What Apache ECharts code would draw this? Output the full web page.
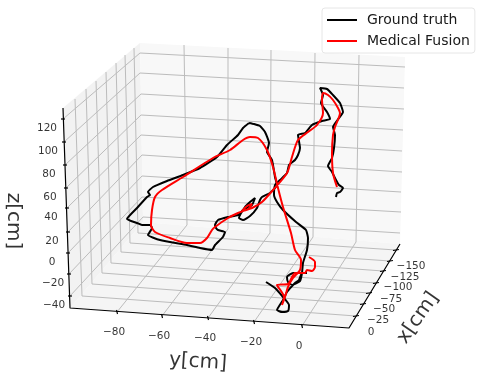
<!DOCTYPE html>
<html>
<head>
<meta charset="utf-8">
<style>html,body{margin:0;padding:0;background:#fff}#main{width:483px;height:380px}</style>
<script src="https://cdn.jsdelivr.net/npm/echarts@6/dist/echarts.min.js"></script>
</head>
<body>
<div id="main"></div>
<script>
// trajectories (projected, picture-plane units)
const groundTruth = [
  [266,282],[275,288],[283,297],[289,305],[288,311],[282,312],[277,310],[283,300],[287,292],[295,283],[299,280],[302,273],[307,273],[300,273],[293,273],[287,277],[288,282],[292,285],[300,281],[302,273],[303,263],[307,250],[308,238],[306,230],[296,222],[283,210],[277,202],[274,195],[275,185],[280,180],[287,173],[289,165],[295,160],[298,155],[300,148],[298,135],[305,133],[312,125],[322,121],[330,119],[327,112],[321,103],[323,95],[320,88],[327,89],[333,95],[340,103],[343,112],[339,118],[333,127],[335,135],[334,148],[332,158],[328,166],[332,172],[336,180],[339,185],[343,188],[340,192],[337,193],[336,197]
];
const groundTruth2 = [
  [249,123],[254,124],[260,126],[265,132],[269,143],[267,152],[272,160],[275,177],[277,185],[270,193],[262,197],[260,200],[257,208],[250,216],[243,220],[239,218],[245,207],[250,202],[255,198],[252,205],[243,210],[238,215],[228,217],[218,220],[215,225],[216,228],[218,230],[225,232],[223,237],[215,245],[212,250],[200,248],[187,245],[160,240],[148,235],[152,228],[150,225],[142,225],[137,223],[127,219],[137,208],[147,197],[150,195],[148,192],[153,187],[167,181],[183,175],[200,168],[217,157],[227,145],[238,135],[243,128],[249,123]
];
const medicalFusion = [
  [309,257],[315,262],[315,267],[312,271],[307,270],[305,273],[295,273],[292,277],[288,284],[277,285],[284,297],[282,305],[285,297],[288,287],[293,278],[300,270],[301,260],[295,250],[291,233],[283,207],[278,188],[273,167],[267,150],[258,138],[250,137],[243,140],[230,150],[213,158],[183,177],[162,190],[155,197],[152,210],[151,225],[155,232],[170,238],[187,243],[200,243],[207,238],[212,230],[215,227],[228,218],[238,213],[248,209],[252,204],[247,206],[242,211],[252,208],[262,202],[273,190],[287,173],[292,157],[298,140],[308,132],[317,125],[323,113],[322,100],[323,93],[328,95],[333,100],[338,108],[340,113],[335,127],[333,135],[332,153],[333,173],[337,187]
];

const xTicks = [0, -25, -50, -75, -100, -125, -150];
const yTicks = [-80, -60, -40, -20, 0];
const zTicks = [120, 100, 80, 60, 40, 20, 0, -20, -40];

// box corners and where gridlines meet the edges
const xTickFloor = [[356,316],[363,304],[369,293],[376,283],[383,271],[390,261],[396,250]];
const xTickBack = [[82,296],[92,284],[102,273],[111,263],[121,252],[130,243],[138,233]];
const xTickTop = [[75,99],[86,89],[96,81],[106,72],[116,63],[125,55],[134,48]];
const yTickFront = [[117,312],[162,316],[208,318],[254,322],[302,326]];
const yTickBack = [[187,225],[228,229],[270,233],[313,237],[356,242]];
const yTickTop = [[184,45],[228,48],[271,50],[315,53],[359,55]];
const zTickLeft = [[63,119],[64,142],[65,165],[66,188],[67,208],[68,232],[68,253],[69,274],[70,296]];
const zTickBack = [[140,53],[140,73],[141,94],[141,115],[141,135],[142,155],[142,176],[142,197],[143,217]];
const zTickRight = [[405,67],[404,88],[404,109],[403,130],[402,151],[402,172],[401,192],[401,212],[400,233]];
const leftPane = [[63,108],[140,43],[143,222],[70,308]];
const backPane = [[140,43],[405,57],[400,244],[143,222]];
const floorPane = [[70,308],[349,328],[400,244],[143,222]];

function seg(a, b) {
  return { type: 'line', data: [a, b], silent: true, symbol: 'none', z: 2,
    lineStyle: { color: '#bcbcbc', width: 1 } };
}
function axisLine(pts) {
  return { type: 'line', data: pts, silent: true, symbol: 'none', z: 3,
    lineStyle: { color: '#000', width: 1.2 } };
}
function pane(pts, color) {
  return { type: 'custom', silent: true, z: 1, coordinateSystem: 'cartesian2d', data: [0],
    renderItem: function (p, api) {
      return { type: 'polygon', shape: { points: pts.map(function (d) { return api.coord(d); }) },
        style: { fill: color } };
    } };
}
function labels(pts, texts, dx, dy, size, rotate) {
  return { type: 'scatter', silent: true, symbolSize: 0, z: 6,
    data: pts.map(function (d, i) { return { value: [d[0] + dx, d[1] + dy], name: String(texts[i]) }; }),
    label: { show: true, position: 'inside', formatter: function (p) { return p.name.replace('-', '\u2212'); },
      fontFamily: 'DejaVu Sans', fontSize: size, color: '#000', rotate: rotate || 0 } };
}
function tick(d, ax, ay) {
  return axisLine([[d[0] - ax, d[1] - ay], [d[0] + ax, d[1] + ay]]);
}

const series = [pane(leftPane, '#f2f2f2'), pane(backPane, '#f8f8f8'), pane(floorPane, '#f5f5f5')];
xTicks.forEach(function (t, i) {
  series.push(seg(xTickFloor[i], xTickBack[i]), seg(xTickBack[i], xTickTop[i]));
  series.push(tick(xTickFloor[i], 3, -0.5));
});
yTicks.forEach(function (t, i) {
  series.push(seg(yTickFront[i], yTickBack[i]), seg(yTickBack[i], yTickTop[i]));
  series.push(tick(yTickFront[i], 0.5, 2));
});
zTicks.forEach(function (t, i) {
  series.push(seg(zTickLeft[i], zTickBack[i]), seg(zTickBack[i], zTickRight[i]));
  series.push(tick(zTickLeft[i], 2, 0));
});
series.push(axisLine([leftPane[0], leftPane[3], floorPane[1], floorPane[2]]));
series.push(labels(xTickFloor, xTicks, 15, 16, 10.5));
series.push(labels(yTickFront, yTicks, -3, 20, 10.5));
series.push(labels(zTickLeft, zTicks, -16, 9, 10.5));
series.push(labels([[198,362]], ['y[cm]'], 0, 0, 20, -4));
series.push(labels([[418,318]], ['x[cm]'], 0, 0, 20, 55));
series.push(labels([[13,221]], ['z[cm]'], 0, 0, 20, -90));

const trackStyle = { type: 'line', symbol: 'none', showSymbol: false, z: 5, silent: true };
series.push(Object.assign({}, trackStyle, { name: 'Ground truth', data: groundTruth, smooth: 0.15, itemStyle: { color: '#000' }, lineStyle: { color: '#000', width: 2 } }));
series.push(Object.assign({}, trackStyle, { data: groundTruth2, smooth: 0.15, lineStyle: { color: '#000', width: 2 } }));
series.push(Object.assign({}, trackStyle, { name: 'Medical Fusion', data: medicalFusion, smooth: 0.25, itemStyle: { color: '#f00' }, lineStyle: { color: '#f00', width: 2 } }));

const chart = echarts.init(document.getElementById('main'));
chart.setOption({
  animation: false,
  backgroundColor: '#fff',
  grid: { left: 0, right: 0, top: 0, bottom: 0 },
  xAxis: { type: 'value', min: 0, max: 483, show: false },
  yAxis: { type: 'value', min: 0, max: 380, inverse: true, show: false },
  legend: {
    data: ['Ground truth', 'Medical Fusion'], orient: 'vertical', left: 322, top: 8,
    icon: 'rect', itemWidth: 30, itemHeight: 2, itemGap: 5, padding: [4, 5, 4, 5],
    backgroundColor: 'rgba(255,255,255,0.8)', borderColor: '#e6e6e6', borderWidth: 1, borderRadius: 3,
    textStyle: { fontFamily: 'DejaVu Sans', fontSize: 14, lineHeight: 16, color: '#1a1a1a', padding: [0, 0, 0, 5] }
  },
  series: series
});
</script>
</body>
</html>
